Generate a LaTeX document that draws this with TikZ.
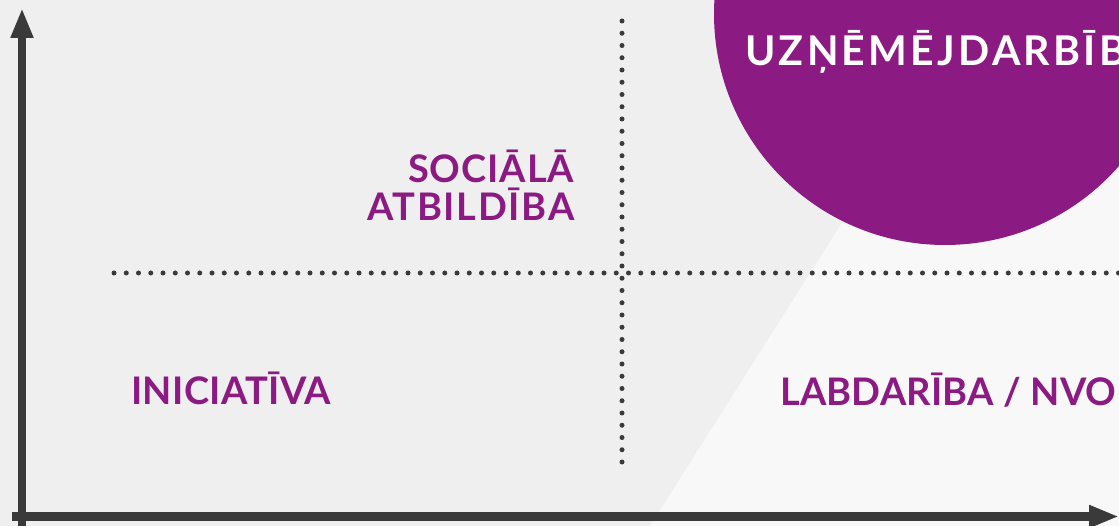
\documentclass[tikz,border=0pt]{standalone}
\usepackage{fontspec}
\setmainfont{Lato}
\newfontfamily\lsSoc[LetterSpace=2.4]{Lato}
\newfontfamily\lsAtb[LetterSpace=4.5]{Lato}
\newfontfamily\lsIni[LetterSpace=0.9]{Lato}
\newfontfamily\lsLab[LetterSpace=0.5]{Lato}
\newfontfamily\lsUzn[LetterSpace=8]{Lato}
\usetikzlibrary{arrows.meta}
\definecolor{bg}{HTML}{EFEFEF}
\definecolor{paper}{HTML}{F8F8F8}
\definecolor{plum}{HTML}{8B1A82}
\definecolor{ink}{HTML}{3A3A3A}
\tikzset{
  lbl/.style={inner sep=0pt, anchor=base west, text=plum},
  sz/.style={font=#1\fontsize{38}{40}\selectfont\bfseries},
  szbig/.style={font=#1\fontsize{41}{43}\selectfont\bfseries},
  dotline/.style={draw=ink, line width=5pt, line cap=round, dash pattern=on 0pt off 12.25pt},
  axis/.style={draw=ink, line width=8.5pt, -{Triangle[length=30pt,width=21pt]}}
}
\begin{document}
\begin{tikzpicture}[x=1pt,y=-1pt]
\useasboundingbox (0,0) rectangle (1119,526);
\clip (0,0) rectangle (1119,526);
\fill[bg] (0,0) rectangle (1119,526);
\fill[paper] (650,526) -- (983,0) -- (1119,0) -- (1119,526) -- cycle;
\fill[plum] (945,14) circle (231);
% dotted guides
\coordinate (hL) at (114,273);
\coordinate (hR) at (1127,273);
\coordinate (vT) at (622,21);
\coordinate (vB) at (622,474);
\draw[dotline] (hL) -- (hR);
\draw[dotline] (vT) -- (vB);
% labels
\node[lbl, sz=\lsSoc] (soc) at (408,183) {SOCIĀLĀ};
\node[lbl, sz=\lsAtb] (atb) at (367,221) {ATBILDĪBA};
\node[lbl, sz=\lsIni] (ini) at (131,404) {INICIATĪVA};
\node[lbl, sz=\lsLab] (lab) at (780,406) {LABDARĪBA / NVO};
\node[lbl, szbig=\lsUzn, text=white] (uzn) at (745,66) {UZŅĒMĒJDARBĪBA};
% axes
\coordinate (yB) at (22,530);
\coordinate (yT) at (22,8);
\coordinate (xL) at (12,516.5);
\coordinate (xR) at (1119,516.5);
\draw[axis] (yB) -- (yT);
\draw[axis] (xL) -- (xR);
\end{tikzpicture}
\end{document}
